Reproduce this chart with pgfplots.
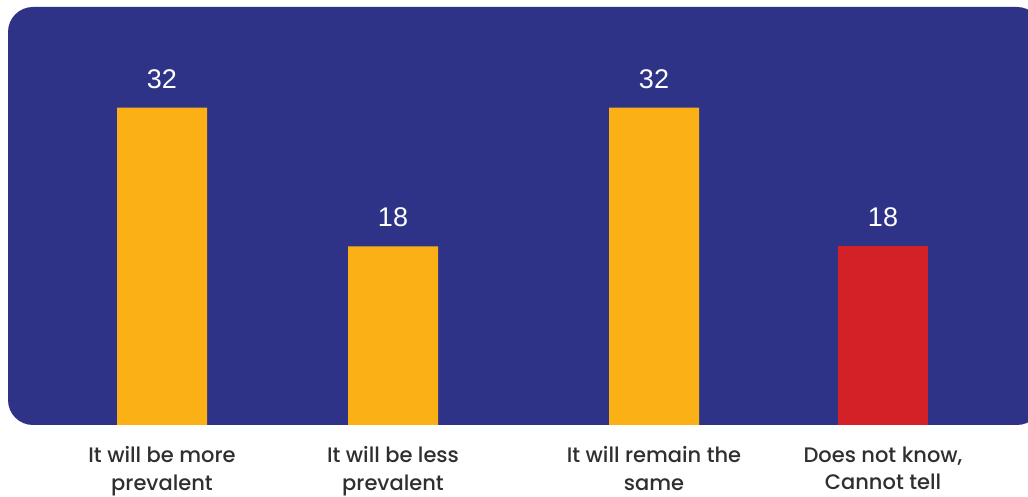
\documentclass[border=0pt]{standalone}
\usepackage{pgfplots}
\pgfplotsset{compat=1.18}
\usepackage{fontspec}
\setmainfont{Poppins}
\newfontfamily\labelfont{Poppins Medium}
\newfontfamily\numfont{Liberation Sans}
\definecolor{bgblue}{HTML}{2E3387}
\definecolor{barorange}{HTML}{FBB116}
\definecolor{barred}{HTML}{D42027}
\definecolor{txt}{HTML}{2F2F2F}
\begin{document}
\begin{tikzpicture}[x=1pt,y=1pt]
\useasboundingbox (0,0) rectangle (1028,497);
\begin{scope}
\clip (0,0) rectangle (1028,497);
\fill[bgblue, rounded corners=25pt] (8,72) rectangle (1042,490);
\end{scope}
\begin{axis}[
  at={(0pt,72pt)}, anchor=south west,
  scale only axis, width=1028pt, height=418pt,
  xmin=0, xmax=1028, ymin=0, ymax=42.14,
  axis line style={draw=none}, tick style={draw=none},
  ytick=\empty,
  xtick={162,393,654,883},
  xticklabels={{It will be more\\prevalent},{It will be less\\prevalent},{It will remain the\\same},{Does not know,\\Cannot tell}},
  xticklabel style={align=center, font=\labelfont\fontsize{21}{27.5}\selectfont, text=txt, yshift=-14pt},
  ybar, bar width=90, bar shift=0pt,
  nodes near coords,
  /pgf/number format/assume math mode=true,
  nodes near coords style={font=\numfont\fontsize{27}{30}\selectfont, text=white, anchor=south, inner sep=0pt, yshift=19pt},
  clip=false,
]
\addplot[fill=barorange, draw=none] coordinates {(162,32) (393,18) (654,32)};
\addplot[fill=barred, draw=none] coordinates {(883,18)};
\end{axis}
\end{tikzpicture}
\end{document}
